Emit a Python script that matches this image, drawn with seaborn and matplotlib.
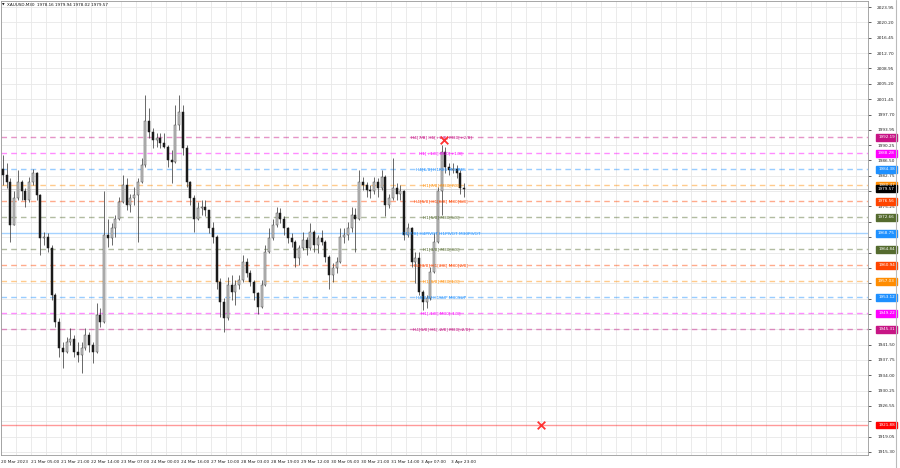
import numpy as np
import matplotlib
matplotlib.use('Agg')
import matplotlib.pyplot as plt
import matplotlib.transforms as mtransforms
from matplotlib.patches import Rectangle
import seaborn as sns

# XAUUSD candles (one candle = 2 hours)
first_open = 1984.5
highs = [1987.8, 1985.8, 1982.1, 1978.9, 1984.1, 1981.7, 1979.7, 1982.5, 1984.5, 1983.7,
         1978.4, 1969.1, 1968.7, 1965.8, 1954.0, 1947.9, 1942.2, 1943.4, 1945.5, 1943.9,
         1942.2, 1942.2, 1945.5, 1944.7, 1942.2, 1951.6, 1950.4, 1978.9, 1972.3, 1971.1,
         1973.2, 1977.6, 1982.9, 1982.1, 1978.4, 1980.1, 1982.1, 1987.0, 2002.5, 1999.2,
         1994.3, 1993.1, 1993.1, 1993.1, 1990.3, 1989.0, 2000.0, 2002.5, 2000.0, 1990.3,
         1981.5, 1978.0, 1976.4, 1976.8, 1976.8, 1974.0, 1971.5, 1968.3, 1957.7, 1952.8,
         1958.1, 1958.5, 1957.3, 1958.5, 1963.4, 1962.6, 1959.7, 1957.3, 1954.4, 1957.3,
         1965.8, 1969.9, 1972.3, 1975.2, 1974.8, 1972.8, 1970.3, 1968.7, 1967.0, 1965.8,
         1969.1, 1967.9, 1971.1, 1969.5, 1968.3, 1969.5, 1967.0, 1963.4, 1961.4, 1963.0,
         1969.9, 1969.9, 1971.5, 1975.2, 1974.8, 1984.1, 1982.5, 1981.3, 1980.5, 1982.5,
         1982.1, 1984.1, 1982.9, 1978.4, 1987.0, 1980.9, 1980.5, 1979.3, 1971.1, 1970.3,
         1964.2, 1964.2, 1954.8, 1953.6, 1960.5, 1968.7, 1980.1, 1990.3, 1989.8, 1985.8,
         1985.8, 1985.4, 1984.1, 1980.9]
lows = [1980.5, 1979.7, 1966.6, 1970.7, 1976.8, 1976.8, 1975.2, 1976.4, 1980.5, 1976.8,
        1963.4, 1965.8, 1964.2, 1952.4, 1945.9, 1938.6, 1935.7, 1939.4, 1941.4, 1938.6,
        1937.3, 1934.5, 1940.2, 1939.8, 1936.9, 1939.4, 1945.9, 1946.7, 1965.4, 1965.8,
        1967.9, 1971.9, 1976.0, 1974.4, 1974.0, 1975.6, 1966.6, 1980.9, 1985.0, 1991.9,
        1989.4, 1989.8, 1989.4, 1989.4, 1985.0, 1980.9, 1985.8, 1993.9, 1987.8, 1980.1,
        1975.6, 1969.1, 1971.9, 1973.2, 1972.8, 1968.7, 1966.2, 1955.2, 1948.3, 1944.7,
        1947.5, 1952.4, 1951.2, 1955.2, 1956.9, 1958.1, 1955.7, 1952.4, 1949.1, 1950.4,
        1955.7, 1963.8, 1967.0, 1970.3, 1971.1, 1968.3, 1966.2, 1965.4, 1960.5, 1960.9,
        1964.6, 1963.4, 1964.6, 1964.2, 1963.8, 1965.8, 1961.8, 1955.2, 1956.9, 1958.9,
        1961.4, 1966.2, 1967.0, 1969.1, 1964.2, 1971.9, 1979.3, 1977.6, 1977.2, 1978.4,
        1977.6, 1979.3, 1972.8, 1974.8, 1976.8, 1976.8, 1976.8, 1967.0, 1967.9, 1960.5,
        1956.5, 1953.6, 1950.0, 1950.4, 1952.4, 1958.9, 1966.2, 1973.2, 1983.3, 1982.9,
        1983.3, 1982.1, 1978.4, 1977.6]
closes = [1982.9, 1981.3, 1970.7, 1977.2, 1981.3, 1978.9, 1976.8, 1981.3, 1983.3, 1978.0,
          1967.5, 1967.9, 1965.0, 1953.6, 1947.1, 1940.6, 1939.8, 1942.2, 1943.0, 1939.8,
          1939.0, 1940.6, 1943.9, 1941.4, 1939.8, 1948.7, 1947.1, 1968.3, 1967.5, 1969.9,
          1972.3, 1976.4, 1980.5, 1975.6, 1977.2, 1978.0, 1981.3, 1985.4, 1996.0, 1993.5,
          1991.5, 1991.9, 1990.7, 1989.8, 1986.6, 1986.2, 1995.1, 1998.4, 1989.4, 1981.3,
          1977.2, 1972.3, 1974.8, 1975.2, 1974.4, 1969.9, 1967.9, 1956.9, 1952.0, 1947.9,
          1956.1, 1954.4, 1956.1, 1957.3, 1961.8, 1958.9, 1956.9, 1954.0, 1950.8, 1956.1,
          1964.2, 1967.5, 1970.7, 1973.6, 1972.3, 1969.9, 1967.5, 1966.6, 1962.6, 1965.0,
          1967.0, 1965.0, 1969.1, 1965.8, 1967.5, 1966.6, 1963.0, 1958.5, 1960.1, 1961.8,
          1967.9, 1968.3, 1969.9, 1973.2, 1972.3, 1981.3, 1980.5, 1979.3, 1978.9, 1981.3,
          1979.7, 1982.5, 1975.6, 1977.2, 1979.7, 1978.4, 1978.9, 1968.3, 1969.9, 1961.8,
          1962.6, 1954.4, 1952.0, 1952.8, 1959.3, 1966.6, 1978.9, 1988.6, 1985.0, 1984.1,
          1984.5, 1983.3, 1979.7, 1979.57]

time_labels = ['20 Mar 2023', '21 Mar 05:00', '21 Mar 21:00', '22 Mar 14:00', '23 Mar 07:00',
               '24 Mar 00:00', '24 Mar 16:00', '27 Mar 10:00', '28 Mar 03:00', '28 Mar 19:00',
               '29 Mar 12:00', '30 Mar 05:00', '30 Mar 21:00', '31 Mar 14:00', '3 Apr 07:00',
               '3 Apr 23:00']
price_labels = ['2023.95', '2020.20', '2016.45', '2012.70', '2008.95', '2005.20', '2001.45',
                '1997.70', '1993.95', '1990.25', '1986.50', '1982.75', '1979.00', '1975.25',
                '1971.50', '1967.75', '1964.00', '1960.25', '1956.50', '1952.75', '1949.00',
                '1945.25', '1941.50', '1937.75', '1934.00', '1930.25', '1926.55', '1922.80',
                '1919.05', '1915.30']

# Murrey math levels
level_prices = [1992.19, 1988.28, 1984.38, 1980.47, 1976.56, 1972.66, 1968.75,
                1964.84, 1960.94, 1957.03, 1953.12, 1949.22, 1945.31, 1921.88]
level_texts = ['H4[7/8] H1[+2/8] M30[+2/8]', 'H1[+1/8] M30[+1/8]', 'H4[6/8] H1RES M30RES',
               'H1[7/8] M30[7/8]', 'H4[5/8] H1[6/8] M30[6/8]', 'H1[5/8] M30[5/8]',
               'D1[7/8] H4PIVOT H1PIVOT M30PIVOT', 'H1[3/8] M30[3/8]', 'H4[3/8] H1[2/8] M30[2/8]',
               'H1[1/8] M30[1/8]', 'H4[2/8] H1SUP M30SUP', 'H1[-1/8] M30[-1/8]',
               'H4[1/8] H1[-2/8] M30[-2/8]', '']
level_colors = ['#C71585', '#FF00FF', '#1E90FF', '#FF8C00', '#FF4500', '#556B2F', '#1E90FF',
                '#556B2F', '#FF4500', '#FF8C00', '#1E90FF', '#FF00FF', '#C71585', '#FF0000']
level_solid = [False, False, False, False, False, False, True,
               False, False, False, False, False, False, True]

bid_price = 1979.57
title_text = 'XAUUSD,M30  1978.16 1979.94 1978.02 1979.57'
cross_x = [118.1, 144.0]
cross_y = [1991.5, 1921.9]

sns.set_theme(style='white')
plt.rcParams['font.family'] = ['DejaVu Sans']

fig = plt.figure(figsize=(9, 4.68), dpi=100)
ax = fig.add_axes([1 / 900, 13 / 468, 867 / 900, 454 / 468])

n = len(closes)
highs = np.array(highs)
lows = np.array(lows)
closes = np.array(closes)
opens = np.concatenate([[first_open], closes[:-1]])
x = np.arange(n) + 0.5

px = 3.75  # pixels per candle
ax.set_xlim(0, 867 / px)
ax.set_ylim(1914.55, 2025.42)

# grid
for gx in np.arange(0, 232, 4):
    ax.axvline(gx, color='#e8e8e8', lw=0.6, zorder=0)
for lab in price_labels:
    ax.axhline(float(lab), color='#e8e8e8', lw=0.6, zorder=0)

# levels
for p, t, c, solid in zip(level_prices, level_texts, level_colors, level_solid):
    if solid:
        ax.axhline(p, color=c, lw=1.0, alpha=0.4, zorder=1)
    else:
        ax.axhline(p, color=c, lw=1.0, alpha=0.45, linestyle=(0, (4, 3)), zorder=1)
    if t:
        ax.text(440 / px, p, t, color=c, fontsize=3.1, ha='center', va='center', zorder=4)
ax.axhline(bid_price, color='#cccccc', lw=0.6, zorder=1)

# candles
ax.vlines(x, lows, highs, color='#404040', lw=0.55, zorder=2)
bull = closes >= opens
ax.bar(x[bull], (closes - opens)[bull], bottom=opens[bull], width=0.55,
       color='#c8c8c8', edgecolor='#4a4a4a', linewidth=0.35, zorder=3)
ax.bar(x[~bull], (closes - opens)[~bull], bottom=opens[~bull], width=0.55,
       color='#1a1a1a', edgecolor='#1a1a1a', linewidth=0.35, zorder=3)

sns.scatterplot(x=cross_x, y=cross_y, marker='x', color='#ff3030', s=30,
                linewidth=1.3, ax=ax, zorder=5, legend=False)

# price tags on the right
tag_prices = level_prices[:4] + [bid_price] + level_prices[4:]
tag_colors = level_colors[:4] + ['#000000'] + level_colors[4:]

# axes and ticks; labels hidden under a tag are left blank, as in the terminal
ax.yaxis.tick_right()
ax.set_yticks([float(v) for v in price_labels])
shown = [v if min(abs(float(v) - t) for t in tag_prices) > 1.2 else '' for v in price_labels]
ax.set_yticklabels(shown)
ax.tick_params(axis='y', length=2, width=0.5, pad=4.5, labelsize=3.1, colors='#222222')
ax.set_xticks(np.arange(len(time_labels)) * 8)
ax.set_xticklabels(time_labels, ha='left')
ax.tick_params(axis='x', length=2, width=0.5, pad=1.5, labelsize=3.1, colors='#222222')
for s in ax.spines.values():
    s.set_color('#999999')
    s.set_linewidth(0.6)

trans = mtransforms.blended_transform_factory(ax.transAxes, ax.transData)
for p, c in zip(tag_prices, tag_colors):
    ax.add_patch(Rectangle((1 + 8 / 867, p - 0.85), 21 / 867, 1.7, transform=trans,
                           color=c, clip_on=False, zorder=6))
    ax.text(1 + 18.5 / 867, p, f'{p:.2f}', transform=trans, color='white', fontsize=3.0,
            ha='center', va='center', clip_on=False, zorder=7)

fig.text(7 / 900, 1 - 5 / 468, title_text, fontsize=3.0, va='center', ha='left', color='#111111')
fig.text(2 / 900, 1 - 5 / 468, '\u25bc', fontsize=2.4, va='center', ha='left', color='#111111')
fig.add_artist(plt.Line2D([896 / 900, 896 / 900], [0, 1], color='#bbbbbb', lw=0.8))

fig.savefig('out.png', dpi=100)
